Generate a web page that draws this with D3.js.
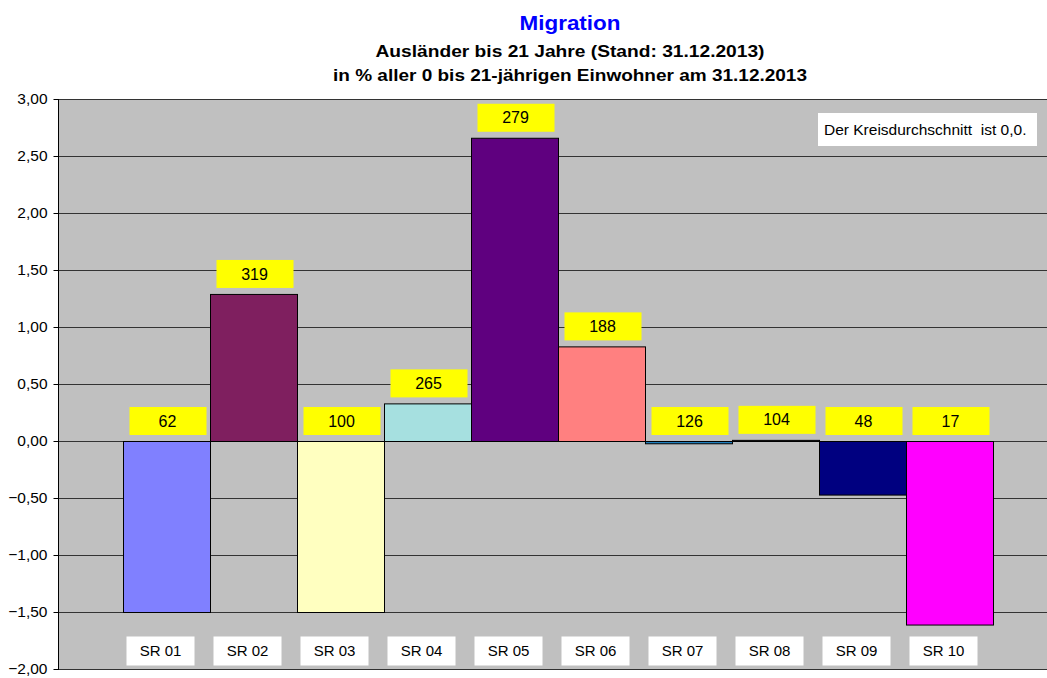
<!DOCTYPE html>
<html><head><meta charset="utf-8">
<script src="https://cdn.jsdelivr.net/npm/d3@7"></script>
<style>body{margin:0;background:#fff}svg{display:block;font-family:"Liberation Sans",Arial,sans-serif}</style>
</head><body><svg id="c" width="1047" height="678"></svg>
<script>
const categories = ["SR 01","SR 02","SR 03","SR 04","SR 05","SR 06","SR 07","SR 08","SR 09","SR 10"];
const values = [-1.50, 1.29, -1.50, 0.33, 2.66, 0.83, -0.02, 0.01, -0.47, -1.61];
const counts = ["62","319","100","265","279","188","126","104","48","17"];
const colors = ["#8080FF","#7F1F5F","#FFFFC0","#A6E0E0","#5F007F","#FF8080","#1F7FBF","#2a2a2a","#000080","#FF00FF"];
const yTicks = [3,2.5,2,1.5,1,0.5,0,-0.5,-1,-1.5,-2];
const title = "Migration";
const subtitle1 = "Ausländer bis 21 Jahre (Stand: 31.12.2013)";
const subtitle2 = "in % aller 0 bis 21-jährigen Einwohner am 31.12.2013";
const note = "Der Kreisdurchschnitt  ist 0,0.";

const svg = d3.select("#c");
const plotL = 58, plotR = 1047, plotT = 99, plotB = 669;
const y = d3.scaleLinear().domain([-2,3]).range([plotB, plotT]);
const x = d3.scaleBand().domain(categories).range([123, 993]).padding(0);
const fmt = v => d3.format(".2f")(v).replace(".", ",");

svg.append("rect").attr("x",plotL).attr("y",plotT).attr("width",plotR-plotL).attr("height",plotB-plotT).attr("fill","#C0C0C0");

// gridlines
svg.append("g").selectAll("line").data(yTicks).join("line")
  .attr("x1",plotL).attr("x2",plotR).attr("y1",d=>Math.round(y(d))+0.5).attr("y2",d=>Math.round(y(d))+0.5)
  .attr("stroke","#333").attr("stroke-width",1);

// y axis
const ya = svg.append("g").attr("transform",`translate(${plotL+0.5},0)`)
  .call(d3.axisLeft(y).tickValues(yTicks).tickFormat(fmt).tickSize(5).tickPadding(6));
ya.selectAll("path").attr("stroke","#000").attr("d",`M0,${plotT}V${plotB+1}`);
ya.selectAll(".tick line").attr("stroke","#000");
ya.selectAll("text").attr("font-size",15.5).attr("font-family","Liberation Sans, Arial").attr("fill","#000");

// bars
const data = categories.map((c,i)=>({c, v:values[i], n:counts[i], col:colors[i]}));
svg.append("g").selectAll("rect").data(data).join("rect")
  .attr("x",d=>x(d.c)+0.5).attr("width",x.bandwidth())
  .attr("y",d=>y(Math.max(0,d.v))+0.5).attr("height",d=>Math.max(1,Math.abs(y(d.v)-y(0))))
  .attr("fill",d=>d.col).attr("stroke","#000").attr("stroke-width",1);

// yellow count labels
const lg = svg.append("g").selectAll("g").data(data).join("g")
  .attr("transform",d=>`translate(${x(d.c)+x.bandwidth()/2+1},${y(Math.max(0,d.v))-20})`);
lg.append("rect").attr("x",-38).attr("y",-14).attr("width",77).attr("height",28).attr("fill","#FFFF00");
lg.append("text").text(d=>d.n).attr("text-anchor","middle").attr("dy","0.35em").attr("font-size",16).attr("fill","#000");

// category label boxes
const cg = svg.append("g").selectAll("g").data(data).join("g")
  .attr("transform",d=>`translate(${x(d.c)+x.bandwidth()/2 - 6},${y(-1.75)+10})`);
cg.append("rect").attr("x",-34).attr("y",-14).attr("width",68).attr("height",29).attr("fill","#fff");
cg.append("text").text(d=>d.c).attr("text-anchor","middle").attr("dy","0.35em").attr("font-size",15).attr("fill","#000");

// note
svg.append("rect").attr("x",818).attr("y",113).attr("width",219).attr("height",33).attr("fill","#fff");
svg.append("text").attr("x",824).attr("y",135).attr("font-size",15.5).style("white-space","pre").text(note);

// titles
svg.append("text").attr("x",570).attr("y",30).attr("text-anchor","middle").attr("font-size",21).attr("font-weight","bold").attr("fill","#0000FF")
  .attr("textLength",101).attr("lengthAdjust","spacingAndGlyphs").text(title);
svg.append("text").attr("x",570).attr("y",57).attr("text-anchor","middle").attr("font-size",17).attr("font-weight","bold")
  .attr("textLength",389).attr("lengthAdjust","spacingAndGlyphs").text(subtitle1);
svg.append("text").attr("x",570).attr("y",81).attr("text-anchor","middle").attr("font-size",17).attr("font-weight","bold")
  .attr("textLength",474).attr("lengthAdjust","spacingAndGlyphs").text(subtitle2);
</script></body></html>
